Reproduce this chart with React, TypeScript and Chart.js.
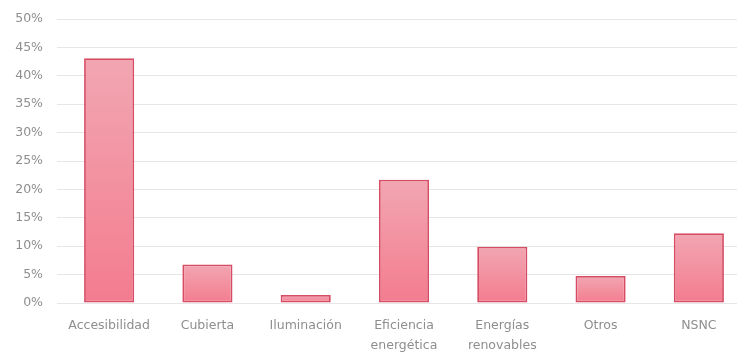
import React, { useEffect, useRef } from "react";
import { Chart, registerables } from "chart.js";

Chart.register(...registerables);

const categories: (string | string[])[] = [
  "Accesibilidad",
  "Cubierta",
  "Iluminación",
  ["Eficiencia", "energética"],
  ["Energías", "renovables"],
  "Otros",
  "NSNC",
];
const values: number[] = [43.1, 6.8, 1.4, 21.7, 9.9, 4.75, 12.3];
const yMin = 0;
const yMax = 50;
const yStep = 5;

export default function App() {
  const ref = useRef<HTMLCanvasElement | null>(null);
  useEffect(() => {
    if (!ref.current) return;
    const chart = new Chart(ref.current, {
      type: "bar",
      data: {
        labels: categories,
        datasets: [
          {
            data: values,
            backgroundColor: (ctx: any) => {
              const c = ctx.chart;
              const ys = c.scales && c.scales.y;
              if (!ys || !c.chartArea || ctx.parsed == null) return "rgb(242,140,156)";
              const top = ys.getPixelForValue(ctx.parsed.y);
              const bottom = ys.getPixelForValue(0);
              if (!isFinite(top) || !isFinite(bottom) || bottom - top < 1) return "rgb(242,140,156)";
              const g = c.ctx.createLinearGradient(0, top, 0, bottom);
              g.addColorStop(0, "rgb(242,166,178)");
              g.addColorStop(1, "rgb(243,124,143)");
              return g;
            },
            borderColor: "rgb(214,76,100)",
            borderWidth: 1.8,
            borderSkipped: false,
            barPercentage: 0.51,
            categoryPercentage: 1,
          },
        ],
      },
      options: {
        responsive: false,
        animation: false,
        layout: { padding: { top: 19, right: 0, bottom: 0, left: 0 } },
        plugins: { legend: { display: false }, tooltip: { enabled: false } },
        scales: {
          x: {
            grid: { display: false, drawTicks: false },
            border: { display: false },
            ticks: {
              padding: 13,
              color: "#8e8e8e",
              font: { family: "DejaVu Sans", size: 12.5, lineHeight: 1.6 },
              maxRotation: 0,
              autoSkip: false,
            },
            afterFit: (s: any) => {
              s.height = 53;
              s.paddingLeft = 0;
              s.paddingRight = 0;
            },
          },
          y: {
            min: yMin,
            max: yMax,
            grid: { color: "#e6e6e6", lineWidth: 1, drawTicks: true, tickLength: 3 },
            border: { display: false },
            ticks: {
              stepSize: yStep,
              padding: 14,
              color: "#8e8e8e",
              font: { family: "DejaVu Sans", size: 12.5 },
              callback: (v: any) => `${v}%`,
            },
            afterFit: (s: any) => {
              s.width = 60;
              s.paddingTop = 0;
              s.paddingBottom = 0;
            },
          },
        },
      },
    });
    return () => chart.destroy();
  }, []);
  return (
    <div
      style={{
        position: "absolute",
        left: 0,
        top: 0,
        width: 737,
        height: 356,
        overflow: "hidden",
        background: "#fff",
      }}
    >
      <canvas ref={ref} width={748} height={356} style={{ display: "block" }} />
    </div>
  );
}
